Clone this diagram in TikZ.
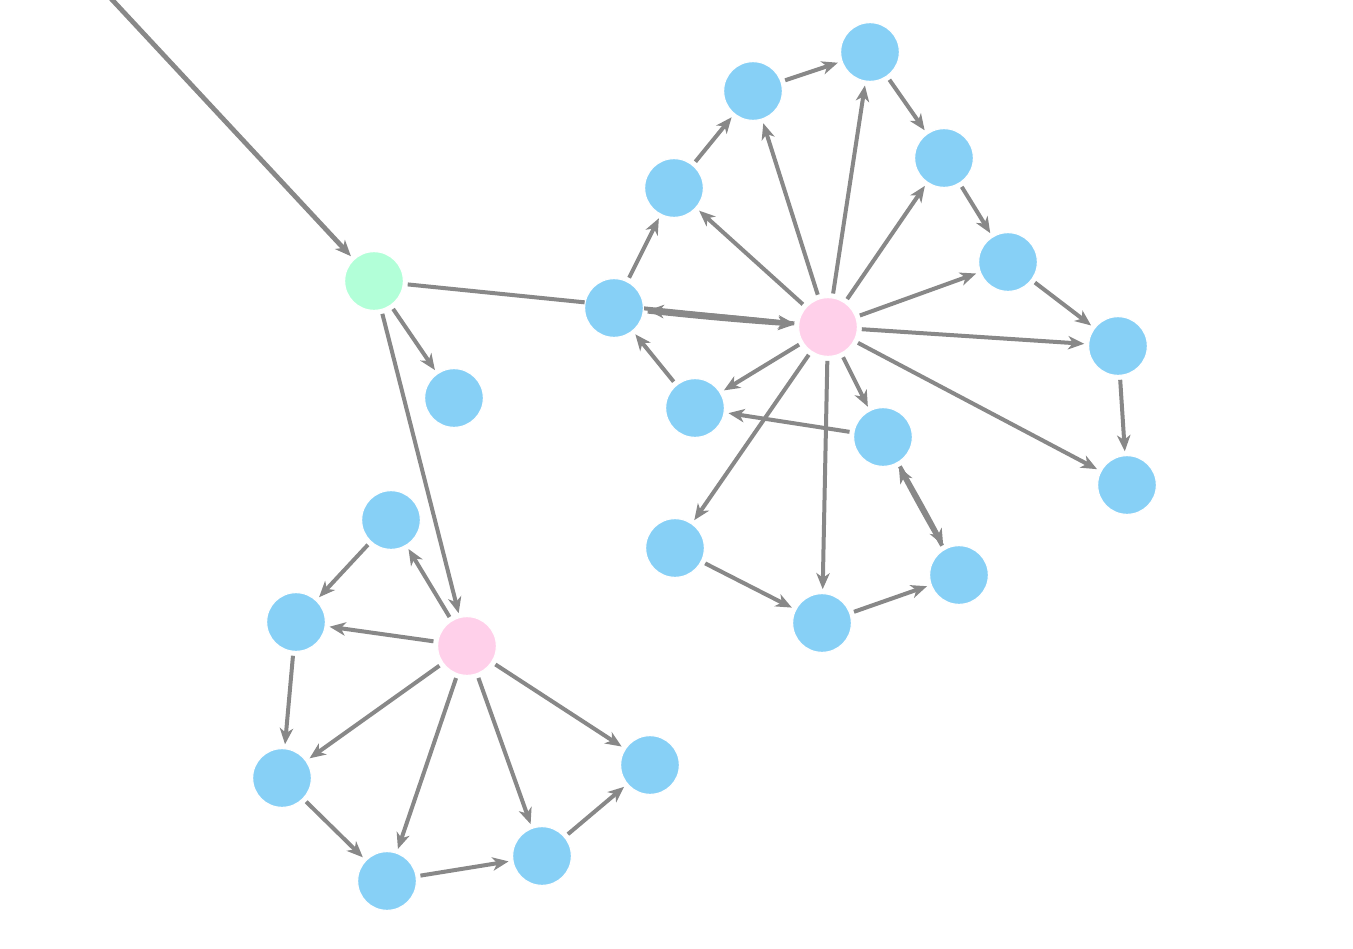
\documentclass[tikz,border=0pt]{standalone}
\usetikzlibrary{arrows.meta,backgrounds}
\definecolor{nblue}{RGB}{135,208,246}
\definecolor{npink}{RGB}{255,208,234}
\definecolor{ngreen}{RGB}{178,255,216}
\definecolor{egray}{RGB}{136,136,136}
\tikzset{
  vtx/.style={circle,minimum size=44pt,inner sep=0pt,draw=white,line width=0.8pt},
  bnode/.style={vtx,fill=nblue},
  pnode/.style={vtx,fill=npink},
  gnode/.style={vtx,fill=ngreen},
  edge/.style={draw=egray,line width=3pt,shorten >=3pt,shorten <=3pt},
  arr/.style={edge,-{Stealth[length=12pt,width=10pt,inset=3.5pt]}},
}
\begin{document}
\begin{tikzpicture}[x=0.75pt,y=-0.75pt]
\clip (0,0) rectangle (1353,949);
% nodes
\node[gnode] (G) at (374,281) {};
\node[bnode] (B1) at (454,398) {};
\node[pnode] (P1) at (828,327) {};
\node[bnode] (B2) at (614,308) {};
\node[bnode] (B3) at (674,188) {};
\node[bnode] (B4) at (753,91) {};
\node[bnode] (B5) at (870,52) {};
\node[bnode] (B6) at (944,158) {};
\node[bnode] (B7) at (1008,262) {};
\node[bnode] (B8) at (1118,346) {};
\node[bnode] (B9) at (1127,485) {};
\node[bnode] (B10) at (695,408) {};
\node[bnode] (B11) at (883,437) {};
\node[bnode] (B12) at (675,548) {};
\node[bnode] (B13) at (959,575) {};
\node[bnode] (B14) at (822,623) {};
\node[pnode] (P2) at (467,646) {};
\node[bnode] (C1) at (391,520) {};
\node[bnode] (C2) at (296,622) {};
\node[bnode] (C3) at (282,778) {};
\node[bnode] (C4) at (387,881) {};
\node[bnode] (C5) at (542,856) {};
\node[bnode] (C6) at (650,765) {};
\coordinate (T) at (90,-24);
\begin{pgfonlayer}{background}
\fill[white] (0,0) rectangle (1353,949);
\draw[arr,line width=3.6pt,shorten <=0pt] (T) -- (G);
\draw[arr] (G) -- (B1);
\draw[arr] (G) -- (P2);
\draw[arr] (G) -- (P1);
\draw[arr] (P1) to[bend right=1] (B2);
\draw[arr] (B2) to[bend right=1] (P1);
\draw[arr] (B2) -- (B3);
\draw[arr] (B3) -- (B4);
\draw[arr] (B4) -- (B5);
\draw[arr] (B5) -- (B6);
\draw[arr] (B6) -- (B7);
\draw[arr] (B7) -- (B8);
\draw[arr] (B8) -- (B9);
\draw[arr] (P1) -- (B3);
\draw[arr] (P1) -- (B4);
\draw[arr] (P1) -- (B5);
\draw[arr] (P1) -- (B6);
\draw[arr] (P1) -- (B7);
\draw[arr] (P1) -- (B8);
\draw[arr] (P1) -- (B9);
\draw[arr] (P1) -- (B10);
\draw[arr] (P1) -- (B11);
\draw[arr] (P1) -- (B12);
\draw[arr] (P1) -- (B14);
\draw[arr] (B10) -- (B2);
\draw[arr] (B11) -- (B10);
\draw[arr] (B11) to[bend left=1] (B13);
\draw[arr] (B13) to[bend left=1] (B11);
\draw[arr] (B12) -- (B14);
\draw[arr] (B14) -- (B13);
\draw[arr] (P2) -- (C1);
\draw[arr] (P2) -- (C2);
\draw[arr] (P2) -- (C3);
\draw[arr] (P2) -- (C4);
\draw[arr] (P2) -- (C5);
\draw[arr] (P2) -- (C6);
\draw[arr] (C1) -- (C2);
\draw[arr] (C2) -- (C3);
\draw[arr] (C3) -- (C4);
\draw[arr] (C4) -- (C5);
\draw[arr] (C5) -- (C6);
\end{pgfonlayer}
\end{tikzpicture}
\end{document}
